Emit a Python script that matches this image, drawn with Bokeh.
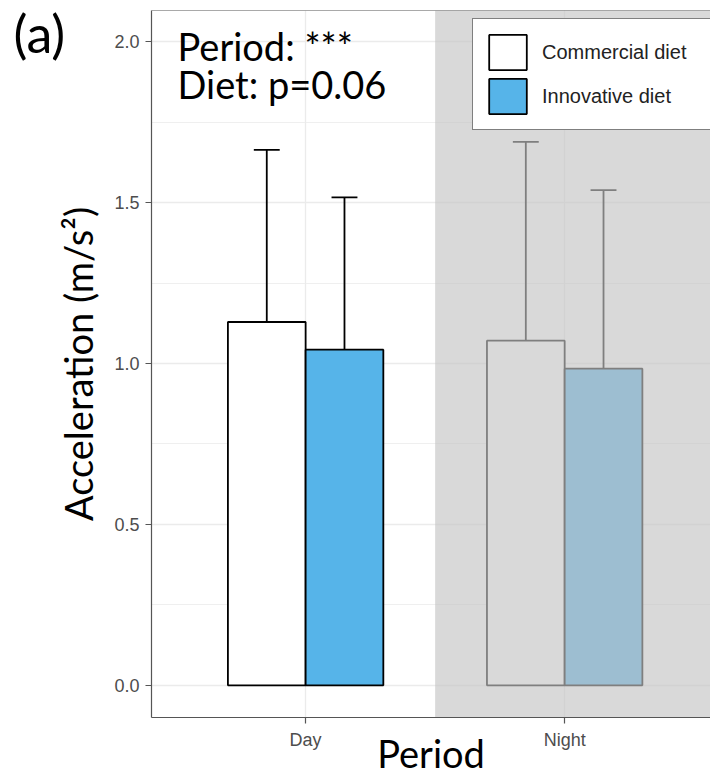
from math import pi
from bokeh.plotting import figure
from bokeh.models import (ColumnDataSource, Label, Legend, LegendItem, Span, Range1d,
                          SingleIntervalTicker, FixedTicker, PrintfTickFormatter)
from bokeh.embed import file_html
from bokeh.resources import INLINE

# ---- data ----
periods = ["Day", "Night"]
period_pos = [1, 2]
diets = ["Commercial diet", "Innovative diet"]
commercial_mean = [1.129, 1.071]
commercial_se = [0.535, 0.618]
innovative_mean = [1.043, 0.984]
innovative_se = [0.473, 0.555]
night_shade_left = [1.5]
night_shade_right = [2.6]
y_tick_step = 0.5

annot_period = "Period: ***"
annot_diet = "Diet: p=0.06"
panel_tag = "(a)"
x_title = "Period"
y_title = "Acceleration (m/s\u00b2)"

# ---- layout / style ----
dodge = 0.15
bar_w = 0.3
cap_w = 0.1
Y0, Y1 = -0.1, 2.097
X0, X1 = 0.405, 2.563
TITLE_FONT = "Lato"
TITLE_SIZE = "38px"

p = figure(width=710, height=778, output_backend="svg", toolbar_location=None,
           title=None, x_range=Range1d(X0, X1), y_range=Range1d(Y0, Y1),
           min_border_left=151, min_border_right=0, min_border_top=10,
           min_border_bottom=61, background_fill_color="white",
           border_fill_color="white")
p.outline_line_color = None

# axes / grid
p.xaxis.ticker = FixedTicker(ticks=period_pos)
p.xaxis.major_label_overrides = {pos: lab for pos, lab in zip(period_pos, periods)}
p.xgrid.ticker = FixedTicker(ticks=period_pos)
p.yaxis.ticker = SingleIntervalTicker(interval=y_tick_step, num_minor_ticks=2)
p.yaxis.formatter = PrintfTickFormatter(format="%.1f")
p.xgrid.grid_line_color = "#ebebeb"
p.xgrid.grid_line_width = 1.3
p.ygrid.grid_line_color = "#ebebeb"
p.ygrid.grid_line_width = 1.3
p.ygrid.minor_grid_line_color = "#ebebeb"
p.ygrid.minor_grid_line_width = 0.8

for ax in (p.xaxis[0], p.yaxis[0]):
    ax.axis_line_color = "#555555"
    ax.axis_line_width = 1.2
    ax.major_tick_line_color = "#555555"
    ax.major_tick_line_width = 1.2
    ax.major_tick_out = 6
    ax.major_tick_in = 0
    ax.minor_tick_line_color = None
    ax.major_label_text_font = "Liberation Sans"
    ax.major_label_text_font_size = "18px"
    ax.major_label_text_color = "#4d4d4d"
    ax.major_label_standoff = 6
    ax.axis_label_text_font = TITLE_FONT
    ax.axis_label_text_font_size = TITLE_SIZE
    ax.axis_label_text_font_style = "normal"
    ax.axis_label_text_color = "black"

p.xaxis.axis_label = x_title
p.xaxis.axis_label_standoff = -23
p.yaxis.axis_label = y_title
p.yaxis.axis_label_standoff = 10

# top border of panel
p.add_layout(Span(location=Y1, dimension="width", line_color="#555555", line_width=1.2))

# data sources
com_x = [x - dodge for x in period_pos]
inn_x = [x + dodge for x in period_pos]
com_src = ColumnDataSource(dict(x=com_x, top=commercial_mean,
                                up=[m + s for m, s in zip(commercial_mean, commercial_se)]))
inn_src = ColumnDataSource(dict(x=inn_x, top=innovative_mean,
                                up=[m + s for m, s in zip(innovative_mean, innovative_se)]))

for src in (com_src, inn_src):
    d = src.data
    d["cl"] = [x - cap_w / 2 for x in d["x"]]
    d["cr"] = [x + cap_w / 2 for x in d["x"]]
    p.segment(x0="x", y0="top", x1="x", y1="up", source=src, line_color="black", line_width=1.8)
    p.segment(x0="cl", y0="up", x1="cr", y1="up", source=src, line_color="black", line_width=1.8)

r_com = p.vbar(x="x", top="top", bottom=0, width=bar_w, source=com_src,
               fill_color="white", line_color="black", line_width=1.8)
r_inn = p.vbar(x="x", top="top", bottom=0, width=bar_w, source=inn_src,
               fill_color="#56B4E9", line_color="black", line_width=1.8)

# night shading (semi-transparent grey over the night half)
p.quad(left=night_shade_left, right=night_shade_right, bottom=[Y0], top=[Y1],
       fill_color=(196, 196, 196), fill_alpha=0.647, line_color=None)

legend = Legend(items=[LegendItem(label=diets[0], renderers=[r_com]),
                       LegendItem(label=diets[1], renderers=[r_inn])],
                location=(321, 587), orientation="vertical",
                glyph_width=47, glyph_height=44, spacing=0, padding=11,
                label_standoff=11, label_width=157,
                label_text_font="Liberation Sans", label_text_font_size="20px",
                label_text_color="#222222",
                border_line_color="black", border_line_width=1.5,
                background_fill_color="white", background_fill_alpha=1.0)
p.add_layout(legend)

common = dict(x_units="screen", y_units="screen", text_font=TITLE_FONT,
              text_color="black", text_baseline="alphabetic")
p.add_layout(Label(x=26, y=672, text=annot_period, text_font_size=TITLE_SIZE, **common))
p.add_layout(Label(x=26, y=634, text=annot_diet, text_font_size=TITLE_SIZE, **common))

# panel tag in the left border
px_per_x = 559 / (X1 - X0)
px_per_y = 707 / (Y1 - Y0)
tag_x = X0 - (151 - 13) / px_per_x
tag_y = Y1 - (32 - 10) / px_per_y
p.add_layout(Label(x=tag_x, y=tag_y, x_units="data", y_units="data", text=panel_tag,
                   text_font=TITLE_FONT, text_font_size="52px", text_color="black",
                   text_baseline="alphabetic"), "left")

open("out.html", "w").write(file_html(p, INLINE))
